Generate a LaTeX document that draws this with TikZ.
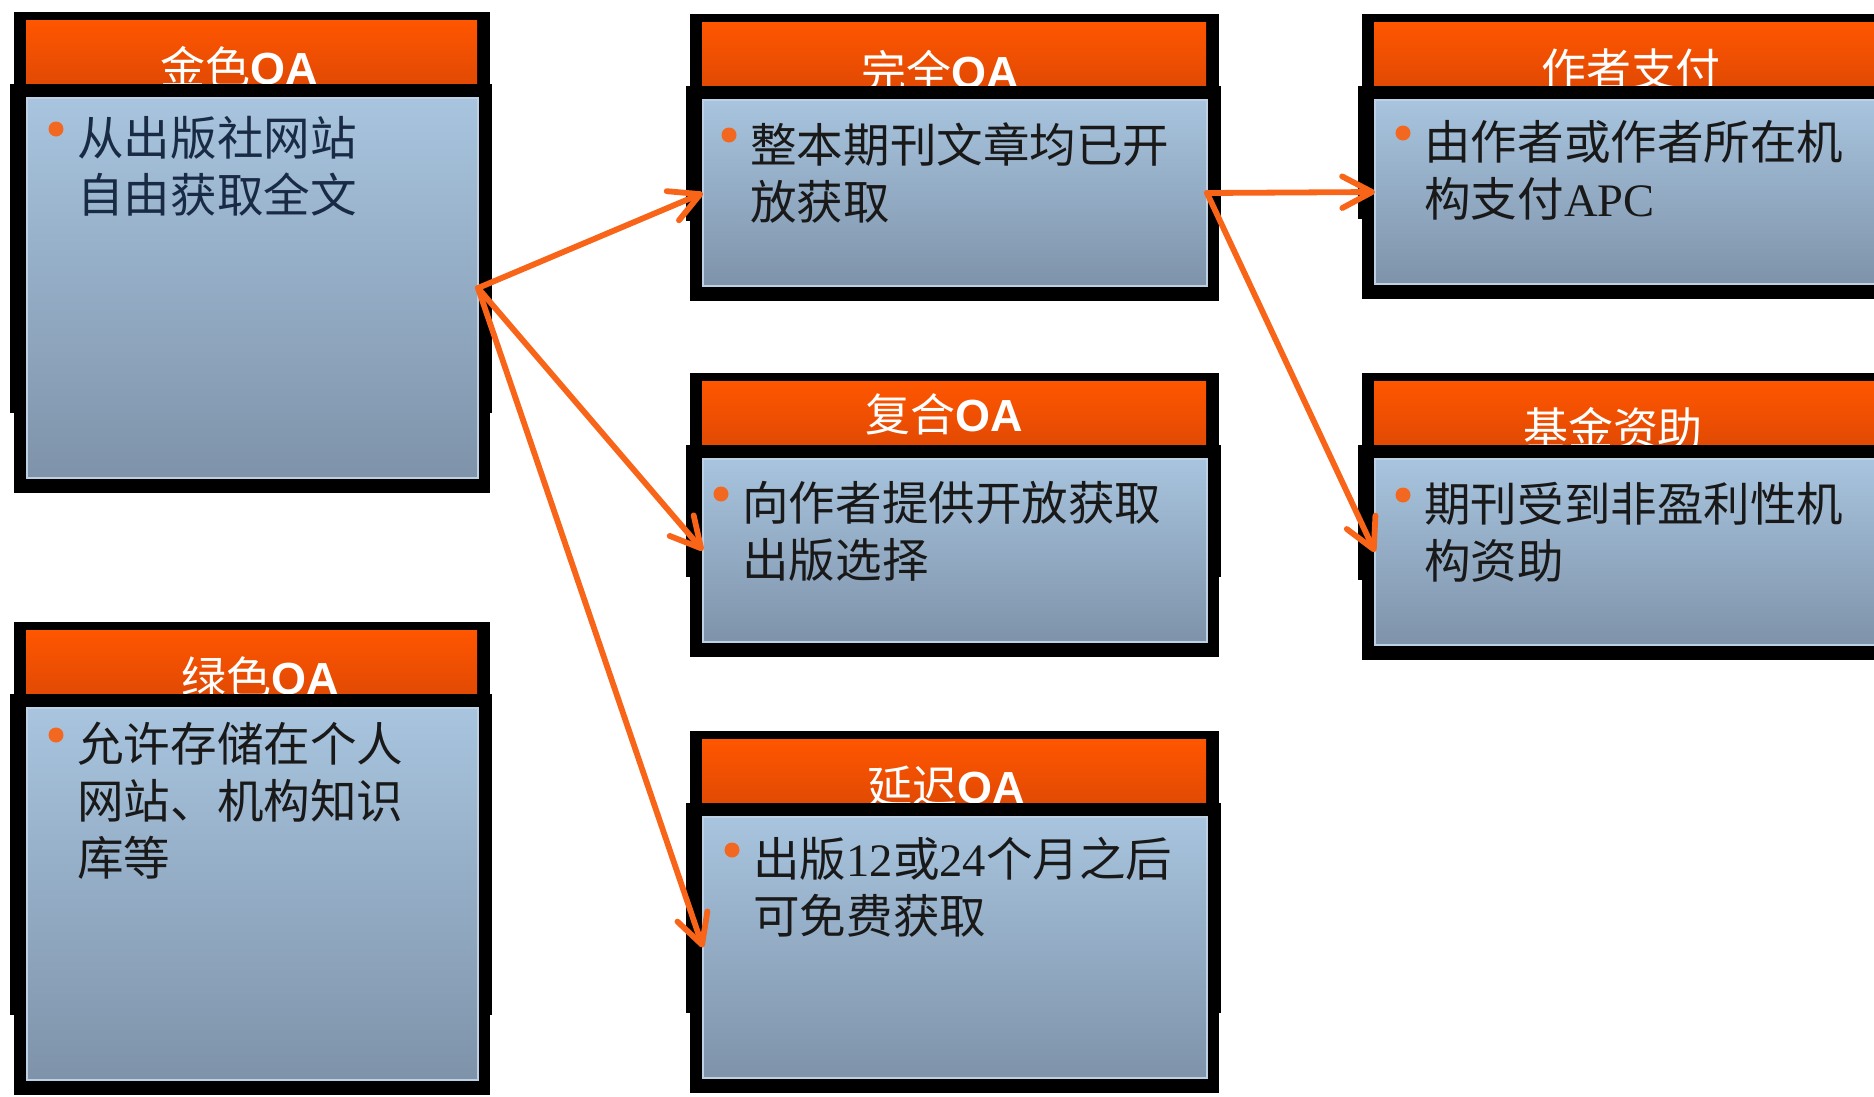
\documentclass[tikz,border=0pt]{standalone}
\usepackage{fontspec}
\setmainfont{Liberation Serif}
\newfontfamily\cjk{Noto Sans CJK SC}
\newfontfamily\oafont{Liberation Sans}
\usetikzlibrary{arrows.meta}

\definecolor{headtop}{RGB}{255,86,0}
\definecolor{headbot}{RGB}{222,72,4}
\definecolor{bodytop}{RGB}{168,196,222}
\definecolor{bodybot}{RGB}{126,147,170}
\definecolor{bodyrim}{RGB}{190,208,228}
\definecolor{linkorange}{RGB}{248,100,24}
\definecolor{dotorange}{RGB}{242,104,32}
\definecolor{navytext}{RGB}{24,42,68}

\tikzset{
  header/.style={top color=headtop, bottom color=headbot},
  body/.style={top color=bodytop, bottom color=bodybot, draw=bodyrim, line width=0.8pt, inner sep=0, outer sep=0},
  title/.style={text=white, font=\fontsize{25.6}{30}\selectfont, anchor=base, inner sep=0},
  bullettext/.style={font=\cjk\fontsize{26.5}{32.4}\selectfont, align=left, anchor=north west, inner sep=0},
  link/.style={linkorange, line width=3.3pt, line cap=round, -{Straight Barb[length=17pt,width=18pt,round]}}
}

\begin{document}
\begin{tikzpicture}[x=0.02cm, y=-0.02cm]
    \clip (0,0) rectangle (1874,1096);
    \fill[white] (0,0) rectangle (1874,1096);

    % Draw the boxes: frame, header, title, body
    \foreach \n/\xa/\ya/\xb/\yb/\tx/\ty/\t in {
      gold/14/12/490/493/239/72/{\cjk 金色}{\oafont\bfseries OA},
      green/14/622/490/1095/260/72/{\cjk 绿色}{\oafont\bfseries OA},
      full/690/14/1219/301/940/74/{\cjk 完全}{\oafont\bfseries OA},
      hybrid/690/373/1219/657/944/58/{\cjk 复合}{\oafont\bfseries OA},
      delayed/690/731/1219/1093/946/72/{\cjk 延迟}{\oafont\bfseries OA},
      author/1362/14/1891/299/1631/72/{\cjk 作者支付},
      fund/1362/373/1891/660/1613/72/{\cjk 基金资助}} {
      \fill (\xa,\ya) rectangle (\xb,\yb);
      \shade[header] (\xa+12,\ya+8) rectangle (\xb-13,\ya+80);
      \node[title] (\n-title) at (\tx,\ya+\ty) {\t};
      \fill (\xa-4,\ya+72) rectangle (\xb+2,\yb-80);
      \pgfmathsetmacro\cx{(\xa+\xb)/2+0.5}
      \pgfmathsetmacro\cy{(\ya+86+\yb-15)/2}
      \pgfmathsetmacro\w{(\xb-\xa-25)*0.02}
      \pgfmathsetmacro\h{(\yb-15-\ya-86)*0.02}
      \node[body, minimum width=\w cm, minimum height=\h cm] (\n) at (\cx,\cy) {};
    }

    % Bullet points and their texts
    \foreach \n/\x/\y/\b in {
      full/750/122/{整本期刊文章均已开\\放获取},
      hybrid/742/481/{向作者提供开放获取\\出版选择},
      delayed/753/837/{出版{\rmfamily 12}或{\rmfamily 24}个月之后\\可免费获取},
      author/1424/120/{由作者或作者所在机\\构支付{\rmfamily APC}},
      fund/1424/482/{期刊受到非盈利性机\\构资助},
      green/77/722/{允许存储在个人\\网站、机构知识\\库等}} {
      \fill[dotorange] (\x-21,\y+13) circle (7.5);
      \node[bullettext, text=black!90] (\n-text) at (\x,\y) {\b};
    }
    \fill[dotorange] (56,129) circle (7.5);
    \node[bullettext, text=navytext] (gold-text) at (77,116) {从出版社网站\\自由获取全文};

    % Arrows between the boxes
    \draw[link] (gold.east) -- (full.west);
    \draw[link] (gold.east) -- (hybrid.west);
    \draw[link] (gold.east) -- (delayed.west);
    \draw[link] (full.east) -- (author.west);
    \draw[link] (full.east) -- (fund.west);
\end{tikzpicture}
\end{document}
